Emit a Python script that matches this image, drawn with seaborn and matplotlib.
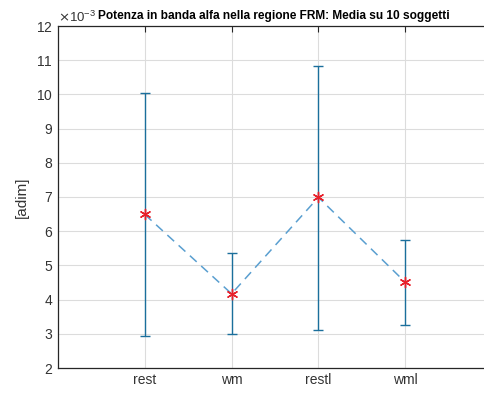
import matplotlib
matplotlib.use("Agg")
import matplotlib.pyplot as plt
import matplotlib.ticker as mticker
import seaborn as sns
import pandas as pd

# Alpha-band power in the FRM region, mean over 10 subjects
conditions = ["rest", "wm", "restl", "wml"]
mean_power = [6.49e-3, 4.17e-3, 6.99e-3, 4.51e-3]
lower_bound = [2.94e-3, 3.00e-3, 3.12e-3, 3.27e-3]
upper_bound = [10.04e-3, 5.36e-3, 10.83e-3, 5.73e-3]

df = pd.DataFrame({
    "pos": range(1, len(conditions) + 1),
    "cond": conditions,
    "mean": mean_power,
    "lo": lower_bound,
    "hi": upper_bound,
})

sns.set_style("whitegrid")
plt.rcParams["font.family"] = ["Liberation Sans", "DejaVu Sans"]
plt.rcParams["axes.unicode_minus"] = True

fig = plt.figure(figsize=(4.84, 3.96), dpi=100)
ax = fig.add_axes([58 / 484, 28 / 396, 434 / 484, 342 / 396])

err_col = "#1b6f9c"
ax.errorbar(df["pos"], df["mean"],
            yerr=[df["mean"] - df["lo"], df["hi"] - df["mean"]],
            fmt="none", ecolor=err_col, elinewidth=1.0, capsize=3.3,
            capthick=1.0, zorder=3)
sns.lineplot(data=df, x="pos", y="mean", ax=ax, color="#5a9fd0",
             linestyle=(0, (6, 4)), linewidth=1.1, zorder=4)
sns.scatterplot(data=df, x="pos", y="mean", ax=ax, marker=(6, 2, 0),
                s=55, color="#e8202a", edgecolor="#e8202a",
                linewidth=1.0, zorder=5)

ax.set_xlim(0, 5)
ax.set_ylim(2e-3, 12e-3)
ax.set_xticks(df["pos"])
ax.set_xticklabels(conditions)
ax.set_yticks([v * 1e-3 for v in range(2, 13)])
fmt = mticker.ScalarFormatter(useMathText=True)
fmt.set_powerlimits((-3, -3))
ax.yaxis.set_major_formatter(fmt)

ax.set_xlabel("")
ax.set_ylabel("[adim]", fontsize=11, color="#333333", labelpad=5)
ax.text(0.4975, 1.0 + 7 / 342,
        "Potenza in banda alfa nella regione FRM: Media su 10 soggetti",
        transform=ax.transAxes, ha="center", va="baseline",
        fontsize=8.6, fontweight="bold", color="black")

ax.grid(True, color="#dcdcdc", linewidth=0.8)
for sp in ax.spines.values():
    sp.set_color("#262626")
    sp.set_linewidth(0.9)
ax.spines["right"].set_visible(False)
ax.tick_params(axis="both", direction="in", length=4, width=0.8,
               colors="#262626", labelsize=10, top=True, right=False,
               labelcolor="#333333")
ax.yaxis.get_offset_text().set_fontsize(9.5)
ax.yaxis.get_offset_text().set_color("#333333")

fig.savefig("out.png", dpi=100)
